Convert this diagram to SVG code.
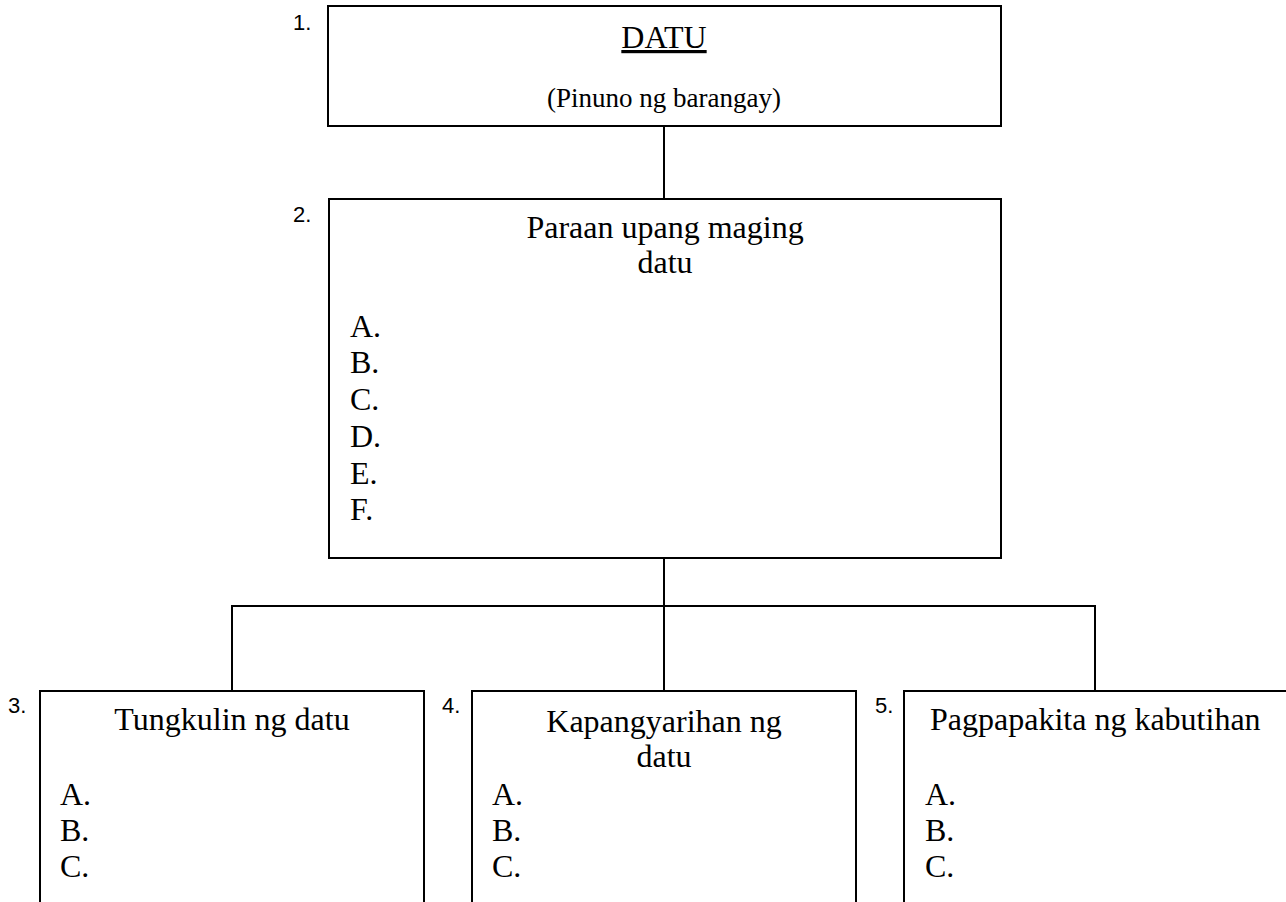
<svg xmlns="http://www.w3.org/2000/svg" width="1286" height="902" viewBox="0 0 1286 902">
<style>
.box{fill:#fff;stroke:#000;stroke-width:2}
.ln{fill:none;stroke:#000;stroke-width:2}
.num{font-family:"Liberation Sans",Arial,sans-serif;font-size:22px;fill:#000}
.t{font-family:"Liberation Serif","Times New Roman",serif;font-size:32px;fill:#000}
.s{font-family:"Liberation Serif","Times New Roman",serif;font-size:27px;fill:#000}
.c{text-anchor:middle}
</style>
<rect width="1286" height="902" fill="#fff"/>
<g id="connectors">
<line class="ln" x1="664" y1="126" x2="664" y2="199"/>
<line class="ln" x1="664" y1="558" x2="664" y2="691"/>
<line class="ln" x1="231" y1="606" x2="1096" y2="606"/>
<line class="ln" x1="232" y1="605" x2="232" y2="691"/>
<line class="ln" x1="1095" y1="605" x2="1095" y2="691"/>
</g>
<g id="node1">
<rect class="box" x="328" y="6" width="673" height="120"/>
<text class="num" x="293" y="30">1.</text>
<text class="t c" x="664" y="48" text-decoration="underline">DATU</text>
<text class="s c" x="664" y="107">(Pinuno ng barangay)</text>
</g>
<g id="node2">
<rect class="box" x="329" y="199" width="672" height="359"/>
<text class="num" x="293" y="222">2.</text>
<text class="t c" x="665" y="238">Paraan upang maging</text>
<text class="t c" x="665" y="273">datu</text>
<text class="t" x="350" y="337">A.</text>
<text class="t" x="350" y="373">B.</text>
<text class="t" x="350" y="410">C.</text>
<text class="t" x="350" y="447">D.</text>
<text class="t" x="350" y="484">E.</text>
<text class="t" x="350" y="520">F.</text>
</g>
<g id="node3">
<path class="ln" d="M40,910 V691 H424 V910"/>
<text class="num" x="8" y="713">3.</text>
<text class="t c" x="232" y="730">Tungkulin ng datu</text>
<text class="t" x="60" y="805">A.</text>
<text class="t" x="60" y="841">B.</text>
<text class="t" x="60" y="877">C.</text>
</g>
<g id="node4">
<path class="ln" d="M472,910 V691 H856 V910"/>
<text class="num" x="442" y="713">4.</text>
<text class="t c" x="664" y="732">Kapangyarihan ng</text>
<text class="t c" x="664" y="767">datu</text>
<text class="t" x="492" y="805">A.</text>
<text class="t" x="492" y="841">B.</text>
<text class="t" x="492" y="877">C.</text>
</g>
<g id="node5">
<path class="ln" d="M904,910 V691 H1290"/>
<text class="num" x="875" y="713">5.</text>
<text class="t" x="930" y="730">Pagpapakita ng kabutihan</text>
<text class="t" x="925" y="805">A.</text>
<text class="t" x="925" y="841">B.</text>
<text class="t" x="925" y="877">C.</text>
</g>
</svg>
